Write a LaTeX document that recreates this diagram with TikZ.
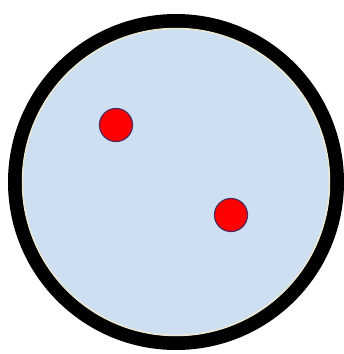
\documentclass[tikz,border=0pt]{standalone}
\begin{document}
\begin{tikzpicture}[x=1pt,y=-1pt,
  ring/.style={draw=black,line width=14pt,fill=bluefill},
  dot/.style={circle,draw=dotedge,line width=1.2pt,fill=red,minimum size=33pt,inner sep=0pt}]
\definecolor{bluefill}{RGB}{205,223,240}
\definecolor{dotedge}{RGB}{80,40,90}
\definecolor{cream}{RGB}{236,232,210}
\useasboundingbox[fill=white] (0,0) rectangle (344,354);
\path[ring] (176,182) circle (161);
\draw[cream,line width=1.5pt] (176,182) circle (153.5);
\node[dot] (d1) at (116,125) {};
\node[dot] (d2) at (231,215) {};
\end{tikzpicture}
\end{document}
